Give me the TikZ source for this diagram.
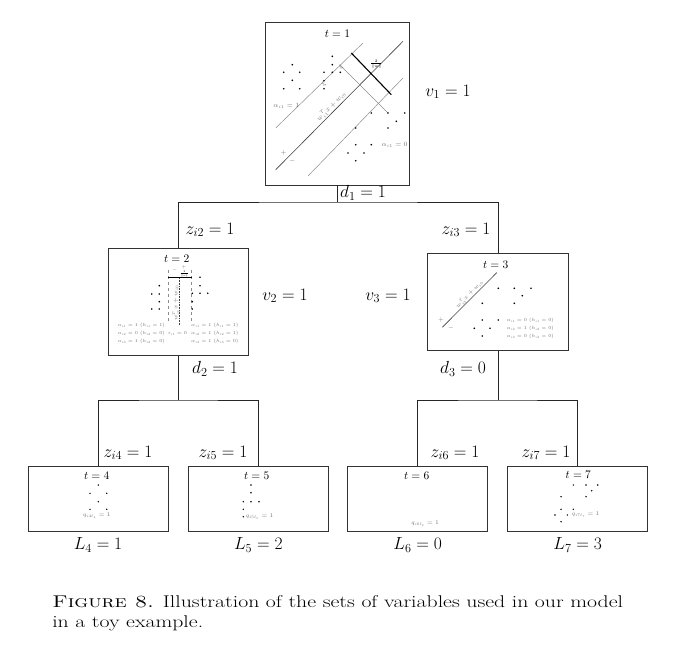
\documentclass[tikz,border=0pt]{standalone}
\usepackage{fix-cm}
\usepackage{fontspec}
\usepackage{amsmath}
\begin{document}
\begin{tikzpicture}[x=1pt,y=-1pt,
  box/.style={draw=black!80, line width=0.6pt, inner sep=0pt, anchor=center},
  conn/.style={draw=black!85, line width=0.6pt},
  lbl/.style={font=\fontsize{17.5}{21}\selectfont, inner sep=0pt},
  captxt/.style={font=\fontsize{17}{21}\selectfont, inner sep=0pt, xscale=1.28},
  tl/.style={font=\fontsize{11.5}{13}\selectfont, inner sep=0pt},
  sm/.style={font=\fontsize{6.5}{7.5}\selectfont, text=black!55, inner sep=0pt},
  xs/.style={font=\fontsize{5.6}{6.5}\selectfont, text=black!55, inner sep=0pt},
  xxs/.style={font=\fontsize{4.6}{5.5}\selectfont, text=black!55, inner sep=0pt},
  gl/.style={draw=black!45, line width=0.5pt},
  dl/.style={draw=black!75, line width=0.6pt},
  bl/.style={draw=black, line width=1.1pt}]
\useasboundingbox (0,0) rectangle (692,644);

% ---------- boxes ----------
\node[box, minimum width=144pt, minimum height=163pt] (b1) at (337.7,103.5) {};
\node[box, minimum width=140pt, minimum height=107pt] (b2) at (178.3,302) {};
\node[box, minimum width=140.6pt, minimum height=97pt] (b3) at (498,301.7) {};
\node[box, minimum width=140pt, minimum height=65pt] (b4) at (98,498.5) {};
\node[box, minimum width=140pt, minimum height=65pt] (b5) at (258.3,498.5) {};
\node[box, minimum width=140pt, minimum height=65pt] (b6) at (417.7,498.5) {};
\node[box, minimum width=140pt, minimum height=65pt] (b7) at (577.7,498.5) {};

% ---------- connectors ----------
\coordinate (j1) at (337.7,202);
\coordinate (j2) at (178.3,400);
\coordinate (j3) at (498,400);
\draw[conn] (b1.south) -- (j1);
\draw[conn] (b2.north) |- (j1) -| (b3.north);
\draw[conn] (b2.south) -- (j2);
\draw[conn] (b4.north) |- (j2) -| (b5.north);
\draw[conn] (b3.south) -- (j3);
\draw[conn] (b6.north) |- (j3) -| (b7.north);

% ---------- outer labels ----------
\node[lbl, anchor=west] (d1) at (340,193) {$d_1 = 1$};
\node[lbl] (z2) at (210,230) {$z_{i2} = 1$};
\node[lbl] (z3) at (466,230) {$z_{i3} = 1$};
\node[lbl] (v1) at (448,92) {$v_1 = 1$};
\node[lbl] (v2) at (285,296) {$v_2 = 1$};
\node[lbl] (v3) at (388,296) {$v_3 = 1$};
\node[lbl] (d2) at (215,369) {$d_2 = 1$};
\node[lbl] (d3) at (463,369) {$d_3 = 0$};
\node[lbl] (z4) at (128,453) {$z_{i4} = 1$};
\node[lbl] (z5) at (223,453) {$z_{i5} = 1$};
\node[lbl] (z6) at (455,453) {$z_{i6} = 1$};
\node[lbl] (z7) at (546,453) {$z_{i7} = 1$};
\node[lbl] (l4) at (98,545) {$L_4 = 1$};
\node[lbl] (l5) at (258.3,545) {$L_5 = 2$};
\node[lbl] (l6) at (417.7,545) {$L_6 = 0$};
\node[lbl] (l7) at (577.7,545) {$L_7 = 3$};

% ---------- caption ----------
\node[captxt, anchor=base west] (c1) at (52,607) {\textsc{Figure 8.} Illustration of the sets of variables used in our model};
\node[captxt, anchor=base west] (c2) at (52,627) {in a toy example.};

% ---------- box 1 (t=1) ----------
\node[tl] (t1) at (337.5,33.5) {$t = 1$};
\draw[gl] (275.7,128) -- (363,43);
\draw[dl] (275.7,169.7) -- (403,41.3);
\draw[gl] (308,176) -- (403,78);
\draw[bl] (351.3,53) -- (391.3,94.7);
\draw[gl] (339.7,64.7) -- (388,113);
\foreach \x/\y in {292.3/64.7, 283.7/72.3, 299.7/72.3, 292.3/80.3, 283.7/88.7, 299.7/88.7,
  332.3/56.3, 332.3/64.7, 324/72.3, 332.3/72.3, 340.3/72.3, 324/80.7, 324/88.7,
  371.3/113, 388/113, 404.7/113, 396.3/121.3, 355.7/128, 388/128, 355.7/144.7,
  371.3/144.7, 348/153, 364/153, 355.7/160.7}
  \fill (\x,\y) circle (0.9pt);
\node[sm] (a11) at (286.3,106.3) {$\alpha_{i1} = 1$};
\node[sm] (a10) at (394.7,144.7) {$\alpha_{i1} = 0$};
\node[sm, rotate=45] (h1) at (331.3,106.3) {$w_{i1}^T x + w_{i0}$};
\node[sm] (p1) at (283.7,153) {$+$};
\node[sm] (m1) at (292.3,160.7) {$-$};
\node[xs, text=black] (w1) at (376.3,64.5) {$\frac{2}{\|w\|}$};
\node[xs, rotate=45] (x1) at (324,84) {$\xi$};
\node[xs, rotate=45] (x2) at (341,67) {$\xi$};

% ---------- box 2 (t=2) ----------
\node[tl] (t2) at (176.7,258.5) {$t = 2$};
\draw[gl, dashed] (168.3,270) -- (168.3,323);
\draw[gl, dashed] (191.7,270) -- (191.7,323);
\draw[dl, densely dotted] (179,278) -- (179,325);
\draw[bl] (168.3,277.3) -- (192.3,277.3);
\node[xxs] (m2) at (174.5,270.5) {$-$};
\node[xxs] (p2) at (184,267.3) {$+$};
\node[font=\fontsize{3.6}{4}\selectfont, inner sep=0pt] (w2) at (184.5,274) {$\frac{2}{\|w\|}$};
\node[xs, rotate=90] (h2) at (176,303) {$w_{i2}^T x + w_{i0}$};
\foreach \x/\y in {159.3/285.7, 151.7/294, 159.3/294, 159.3/301.7, 151.7/309, 159.3/309,
  200/277.3, 200/285.7, 192.3/293.3, 200/293.3, 207.7/293.3, 192.3/301.7, 192.3/309}
  \fill (\x,\y) circle (0.9pt);
\node[xxs, anchor=west] (al1) at (117.5,325) {$\alpha_{i1} = 1\ (h_{i1} = 1)$};
\node[xxs, anchor=west] (al2) at (117.5,333.3) {$\alpha_{i2} = 0\ (h_{i2} = 0)$};
\node[xxs, anchor=west] (al3) at (117.5,341.7) {$\alpha_{i3} = 1\ (h_{i2} = 0)$};
\node[xxs] (e2) at (177.5,333.3) {$\epsilon_{i1} = 0$};
\node[xxs, anchor=west] (ar1) at (191,325) {$\alpha_{i1} = 1\ (h_{i1} = 1)$};
\node[xxs, anchor=west] (ar2) at (191,333.3) {$\alpha_{i2} = 1\ (h_{i2} = 1)$};
\node[xxs, anchor=west] (ar3) at (191,341.7) {$\alpha_{i3} = 1\ (h_{i3} = 0)$};

% ---------- box 3 (t=3) ----------
\node[tl] (t3) at (495.7,265) {$t = 3$};
\draw[dl] (442.3,327.3) -- (496.7,272.7);
\node[xs, rotate=45] (h3) at (469.5,294.5) {$w_{i3}^T x + w_{i0}$};
\node[xs] (p3) at (441,320) {$+$};
\node[xs] (m3) at (451,328.5) {$-$};
\foreach \x/\y in {498.3/288.3, 514.3/288.3, 531/288.3, 522.3/295.7, 482.3/303.3, 514.3/303.3,
  482.3/320, 498.3/320, 474.3/328.3, 490/328.3, 482.3/336}
  \fill (\x,\y) circle (0.9pt);
\node[xxs, anchor=west] (b3a) at (506.5,320) {$\alpha_{i1} = 0\ (h_{i1} = 0)$};
\node[xxs, anchor=west] (b3b) at (506.5,328.3) {$\alpha_{i2} = 1\ (h_{i2} = 0)$};
\node[xxs, anchor=west] (b3c) at (506.5,336) {$\alpha_{i3} = 0\ (h_{i3} = 0)$};

% ---------- leaves ----------
\node[tl] (t4) at (96.7,475.7) {$t = 4$};
\foreach \x/\y in {98.3/485, 90/493.3, 106.7/493.3, 98.3/501.7, 90/509.3, 106.7/509.3}
  \fill (\x,\y) circle (0.8pt);
\node[xs] (q4) at (96.7,516) {$q_{i4\ell_4} = 1$};

\node[tl] (t5) at (256.7,475.7) {$t = 5$};
\foreach \x/\y in {251/485, 251/492.7, 243.3/501.7, 251/501.7, 259/501.7, 243.3/509.3, 243.3/516.7}
  \fill (\x,\y) circle (0.8pt);
\node[xs, anchor=west] (q5) at (245.5,516.7) {$q_{i5\ell_5} = 1$};

\node[tl] (t6) at (416.7,475.7) {$t = 6$};
\node[xs] (q6) at (425,523.3) {$q_{i6\ell_6} = 1$};

\node[tl] (t7) at (578.3,475) {$t = 7$};
\foreach \x/\y in {573.3/485, 586/485, 597.7/485, 591.7/490.7, 561/496.7, 586/496.7,
  561/509.3, 573.3/509.3, 555/515, 567.3/515, 561/521.7}
  \fill (\x,\y) circle (0.8pt);
\node[xs, anchor=west] (q7) at (571.5,515) {$q_{i7\ell_7} = 1$};
\end{tikzpicture}
\end{document}
